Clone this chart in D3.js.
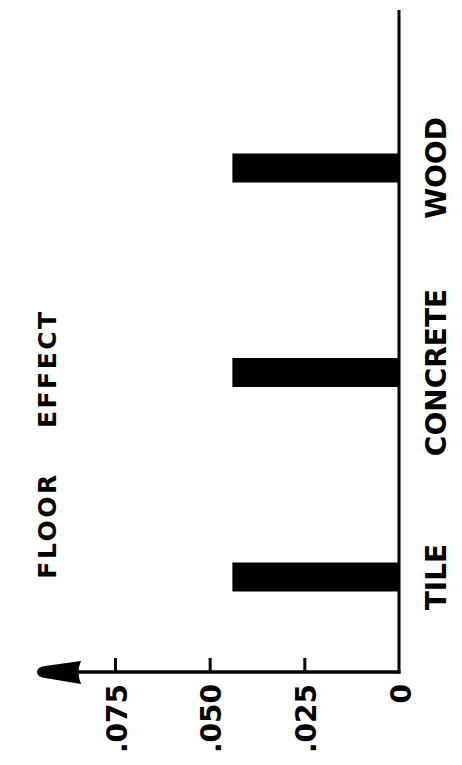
<!DOCTYPE html>
<html><head><meta charset="utf-8">
<script src="https://cdn.jsdelivr.net/npm/d3@7"></script>
<style>body{margin:0;background:#fff}svg{display:block}</style>
</head><body>
<svg id="c" width="462" height="765"></svg>
<script>
const categories = ["TILE", "CONCRETE", "WOOD"];
const values = [0.044, 0.044, 0.044];
const tickValues = [0, 0.025, 0.05, 0.075];
const tickLabels = ["0", ".025", ".050", ".075"];
const title = "FLOOR EFFECT";

const svg = d3.select("#c");
const font = "'DejaVu Sans', sans-serif";
const axisY = 672, axisX = 399;

const x = d3.scaleLinear().domain([0, 0.075]).range([axisX, 115]);
const y = d3.scalePoint().domain(categories).range([577, 168]);
const barW = 29;

// bars
svg.selectAll("rect.bar").data(categories).join("rect")
  .attr("x", (d,i) => x(values[i]))
  .attr("y", d => y(d) - barW/2)
  .attr("width", (d,i) => x(0) - x(values[i]))
  .attr("height", barW)
  .attr("fill", "#000");

// vertical (category) axis
svg.append("line").attr("x1", axisX).attr("x2", axisX).attr("y1", 10).attr("y2", axisY + 1.5)
  .attr("stroke", "#000").attr("stroke-width", 3);

// horizontal (value) axis with ticks
const ax = svg.append("g").attr("transform", `translate(0,${axisY})`)
  .call(d3.axisTop(x).tickValues(tickValues).tickSize(14).tickSizeOuter(0)
        .tickFormat((d,i) => tickLabels[i]));
ax.select(".domain").remove();
ax.selectAll(".tick line").attr("stroke", "#000").attr("stroke-width", 3);
ax.selectAll(".tick line").filter(d => d === 0).remove();
ax.selectAll(".tick text")
  .attr("x", null).attr("y", null).attr("dy", null)
  .attr("transform", "translate(11,12) rotate(-90)")
  .attr("text-anchor", "end")
  .attr("font-family", font).attr("font-weight", "bold").attr("font-size", 28)
  .attr("fill", "#000");

svg.append("line").attr("x1", 70).attr("x2", axisX + 1.5).attr("y1", axisY).attr("y2", axisY)
  .attr("stroke", "#000").attr("stroke-width", 3.5);
// arrow head
svg.append("path")
  .attr("d", `M81,${axisY-11} L45,${axisY-6} Q37,${axisY-5} 37,${axisY} Q37,${axisY+5} 45,${axisY+6} L81,${axisY+12} Q76,${axisY} 81,${axisY-11} Z`)
  .attr("fill", "#000");

// category labels
svg.selectAll("text.cat").data(categories).join("text")
  .attr("class", "cat")
  .attr("transform", d => `translate(446,${y(d)}) rotate(-90)`)
  .attr("text-anchor", "middle")
  .attr("font-family", font).attr("font-weight", "bold").attr("font-size", 28)
  .attr("fill", "#000")
  .text(d => d);

// title
svg.append("text")
  .attr("transform", "translate(56,444) rotate(-90)")
  .attr("text-anchor", "middle")
  .attr("font-family", font).attr("font-weight", "bold").attr("font-size", 25)
  .attr("letter-spacing", 2.5).attr("word-spacing", 33)
  .attr("fill", "#000")
  .text(title);
</script>
</body></html>
